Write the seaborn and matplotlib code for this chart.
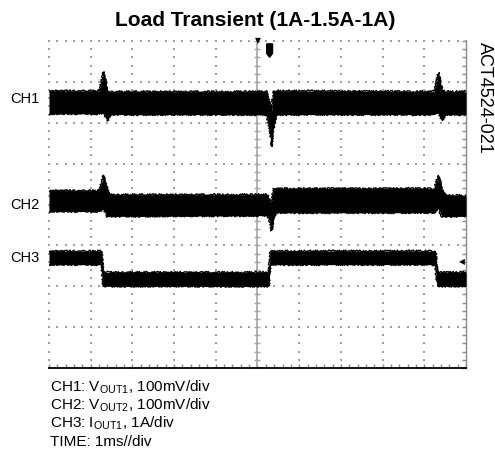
import numpy as np
import pandas as pd
import matplotlib
matplotlib.use("Agg")
import matplotlib.pyplot as plt
import matplotlib.transforms as mtransforms
from matplotlib.patches import Polygon
import seaborn as sns

# ---------------- data ----------------
# time in ms (1 ms/div), amplitude in divisions (center = 0)
ch1_t  = [-5.0, -3.79, -3.69, -3.60, -3.52, 0.22, 0.30, 0.34, 0.38, 0.45, 4.24, 4.34, 4.43, 4.51, 5.0]
ch1_hi = [2.78, 2.78, 3.25, 2.78, 2.76, 2.76, 2.45, 2.30, 2.78, 2.78, 2.76, 3.23, 2.78, 2.76, 2.76]
ch1_lo = [2.22, 2.22, 2.25, 2.05, 2.20, 2.20, 1.82, 1.42, 1.85, 2.20, 2.20, 2.25, 2.05, 2.20, 2.20]

ch2_t  = [-5.0, -3.79, -3.69, -3.60, -3.52, 0.24, 0.30, 0.34, 0.39, 0.44, 4.24, 4.34, 4.43, 4.51, 5.0]
ch2_hi = [0.34, 0.34, 0.71, 0.35, 0.24, 0.24, 0.05, 0.10, 0.39, 0.39, 0.39, 0.71, 0.35, 0.22, 0.22]
ch2_lo = [-0.17, -0.17, -0.10, -0.30, -0.29, -0.27, -0.42, -0.64, -0.36, -0.20, -0.20, -0.10, -0.30, -0.29, -0.29]

ch3_t  = [-5.0, -3.74, -3.70, 0.27, 0.31, 4.27, 4.31, 5.0]
ch3_hi = [-1.14, -1.14, -1.66, -1.66, -1.14, -1.14, -1.66, -1.66]
ch3_lo = [-1.47, -1.47, -2.00, -2.00, -1.47, -1.47, -2.00, -2.00]

channel_names = ["CH1", "CH2", "CH3"]
channel_label_pos = [2.57, 0.0, -1.32]
trig_time = 0.29
ch3_ref = -1.39

title = "Load Transient (1A-1.5A-1A)"
side_text = "ACT4524-021"
notes = [r"CH1: V$_{\mathregular{OUT1}}$, 100mV/div",
         r"CH2: V$_{\mathregular{OUT2}}$, 100mV/div",
         r"CH3: I$_{\mathregular{OUT1}}$, 1A/div",
         "TIME: 1ms//div"]

# ---------------- style ----------------
sns.set_style("white")
plt.rcParams["font.family"] = ["Liberation Sans", "DejaVu Sans"]
plt.rcParams["mathtext.fontset"] = "custom"
plt.rcParams["mathtext.rm"] = "Liberation Sans"
plt.rcParams["text.color"] = "black"

W, H = 495, 450
fig = plt.figure(figsize=(W / 100, H / 100), dpi=100)
ax = fig.add_axes([49 / W, 1 - 368 / H, 417 / W, 327 / H])
ax.set_xlim(-5, 5)
ax.set_ylim(-4, 4)

grid_c = "#a0a0a0"
# dotted graticule
minor_t = np.arange(-5, 5.001, 0.2)
minor_v = np.arange(-4, 4.001, 0.2)
for v in range(-3, 5):
    ax.scatter(minor_t, np.full_like(minor_t, v), s=0.9, marker="s", color=grid_c,
               linewidths=0, zorder=1, clip_on=False)
for t in range(-5, 5):
    ax.scatter(np.full_like(minor_v, t), minor_v, s=0.9, marker="s", color=grid_c,
               linewidths=0, zorder=1, clip_on=False)

# center cross with tick marks
ax.axvline(0, color="#a5a5a5", lw=1.2, zorder=1.5)
ax.axhline(0, color="#a5a5a5", lw=1.2, zorder=1.5)
ax.scatter(np.zeros_like(minor_v), minor_v, marker="_", s=14, color="#a5a5a5", lw=1, zorder=1.5)
ax.scatter(minor_t, np.zeros_like(minor_t), marker="|", s=14, color="#a5a5a5", lw=1, zorder=1.5)

# traces as noisy envelopes
for tt, hi, lo in [(ch1_t, ch1_hi, ch1_lo), (ch2_t, ch2_hi, ch2_lo), (ch3_t, ch3_hi, ch3_lo)]:
    df = pd.DataFrame({"t": tt, "hi": hi, "lo": lo})
    ax.fill_between(df["t"], df["lo"], df["hi"], color="black", lw=0, zorder=3)
    for col in ["hi", "lo"]:
        sns.lineplot(data=df, x="t", y=col, color="black", lw=1.0, estimator=None,
                     sort=False, ax=ax, zorder=3)
        ax.lines[-1].set_sketch_params(1.0, 2.0, 2.0)

# spines & ticks
for s in ["left", "top"]:
    ax.spines[s].set_visible(False)
ax.spines["bottom"].set_color("black")
ax.spines["bottom"].set_linewidth(1.3)
ax.spines["right"].set_color("#8a8a8a")
ax.spines["right"].set_linewidth(1.0)
ax.set_xticks(np.arange(-5, 5.01, 1))
ax.set_xticks(minor_t, minor=True)
ax.set_yticks(np.arange(-4, 4.01, 1))
ax.set_yticks(minor_v, minor=True)
ax.yaxis.tick_right()
ax.tick_params(axis="x", which="both", direction="in", bottom=True, top=False,
               length=3, width=1, color="#888888", labelbottom=False)
ax.tick_params(axis="y", which="both", direction="in", right=True, left=False,
               length=3, width=1, color="#8a8a8a", labelright=False)
ax.set_xlabel("")
ax.set_ylabel("")

# channel labels
blend = mtransforms.blended_transform_factory(ax.transAxes, ax.transData)
for name, pos in zip(channel_names, channel_label_pos):
    ax.text(-0.022, pos, name, transform=blend, ha="right", va="center", fontsize=10.5)

# scope markers
ax.text(0.5, 1.0, "\u25BC", transform=ax.transAxes, ha="center", va="center",
        fontsize=5.5, color="black", zorder=5, family="DejaVu Sans")
ax.add_patch(Polygon([[trig_time - 0.07, 3.93], [trig_time + 0.07, 3.93],
                      [trig_time + 0.07, 3.70], [trig_time, 3.60], [trig_time - 0.07, 3.70]],
                     closed=True, color="black", zorder=5))
ax.text(0.997, ch3_ref, "\u25C0", transform=blend, ha="right", va="center",
        fontsize=5.5, color="black", family="DejaVu Sans", zorder=5)

# texts
fig.text(255 / W, 1 - 21 / H, title, ha="center", va="center", fontsize=15, fontweight="bold")
fig.text(484 / W, 1 - 42 / H, side_text, rotation=270, ha="center", va="top", fontsize=13)
for i, line in enumerate(notes):
    fig.text(50 / W, 1 - (391 + 18.3 * i) / H, line, ha="left", va="baseline", fontsize=11)

fig.savefig("out.png", dpi=100)
